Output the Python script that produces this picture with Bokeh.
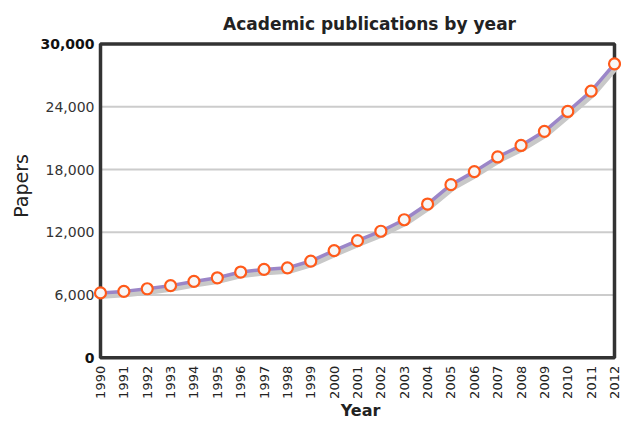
import math
from bokeh.plotting import figure
from bokeh.models import Range1d, Label, ColumnDataSource
from bokeh.transform import dodge
from bokeh.embed import file_html
from bokeh.resources import INLINE

# ---- data ----
years = [1990, 1991, 1992, 1993, 1994, 1995, 1996, 1997, 1998, 1999, 2000, 2001,
         2002, 2003, 2004, 2005, 2006, 2007, 2008, 2009, 2010, 2011, 2012]
papers = [6200, 6350, 6600, 6900, 7300, 7650, 8200, 8450, 8600, 9250, 10250, 11200,
          12100, 13200, 14700, 16550, 17800, 19200, 20300, 21650, 23550, 25500, 28100]
y_ticks = [0, 6000, 12000, 18000, 24000, 30000]
y_tick_labels = ["0", "6,000", "12,000", "18,000", "24,000", "30,000"]
x_tick_labels = [str(y) for y in years]
title_text = "Academic publications by year"
x_label = "Year"
y_label = "Papers"

FONT = "DejaVu Sans"
TXT = "#222222"

W, H = 621, 420
# screen layout of the plotting box (pixels)
BOX_L, BOX_R, BOX_T, BOX_B = 100, 614, 43.5, 357.3
PX_X = (BOX_R - BOX_L) / (years[-1] - years[0])
PX_Y = (BOX_B - BOX_T) / (y_ticks[-1] - y_ticks[0])

src = ColumnDataSource(dict(year=years, papers=papers))

p = figure(
    frame_width=W, frame_height=H,
    x_range=Range1d(years[0] - BOX_L / PX_X, years[-1] + (W - BOX_R) / PX_X),
    y_range=Range1d(y_ticks[0] - (H - BOX_B) / PX_Y, y_ticks[-1] + BOX_T / PX_Y),
    x_axis_location=None, y_axis_location=None,
    output_backend="svg", toolbar_location=None,
    min_border=0, min_border_left=0, min_border_right=0, min_border_top=0,
    min_border_bottom=0,
    background_fill_color="white", border_fill_color="white",
)
p.title.visible = False
p.outline_line_color = None
p.grid.visible = False

# grid lines
inner = y_ticks[1:-1]
p.segment(x0=[years[0]] * len(inner), x1=[years[-1]] * len(inner), y0=inner, y1=inner,
          line_color="#cccccc", line_width=2)

# plot box border
p.quad(left=[years[0]], right=[years[-1]], bottom=[y_ticks[0]], top=[y_ticks[-1]],
       fill_color=None, line_color="#333333", line_width=3.5)

# y tick labels (ends bold)
styles = ["bold" if v in (y_ticks[0], y_ticks[-1]) else "normal" for v in y_ticks]
colors = ["#111111" if s == "bold" else "#333333" for s in styles]
ysrc = ColumnDataSource(dict(x=[years[0]] * len(y_ticks), y=y_ticks, t=y_tick_labels,
                             s=styles, c=colors))
p.text(x="x", y="y", text="t", source=ysrc, x_offset=-6, text_align="right",
       text_baseline="middle", text_font_size="14px", text_font_style="s",
       text_color="c", text_font={"value": FONT})

# x tick labels (vertical)
xsrc = ColumnDataSource(dict(x=years, y=[y_ticks[0]] * len(years), t=x_tick_labels))
p.text(x="x", y="y", text="t", source=xsrc, angle=math.pi / 2, y_offset=8,
       text_align="right", text_baseline="middle", text_font_size="13px",
       text_color=TXT, text_font={"value": FONT})

mid_x = (years[0] + years[-1]) / 2
mid_y = (y_ticks[0] + y_ticks[-1]) / 2

# title
p.add_layout(Label(x=mid_x, y=y_ticks[-1], x_offset=12, y_offset=20,
                   text=title_text, text_align="center", text_baseline="alphabetic",
                   text_font=FONT, text_font_size="17px", text_font_style="bold",
                   text_color=TXT))
# x axis label
p.add_layout(Label(x=mid_x, y=y_ticks[0], x_offset=3, y_offset=-53,
                   text=x_label, text_align="center", text_baseline="alphabetic",
                   text_font=FONT, text_font_size="16px", text_font_style="bold",
                   text_color=TXT))
# y axis label
p.add_layout(Label(x=years[0], y=mid_y, x_offset=-80, y_offset=15,
                   angle=math.pi / 2, text=y_label, text_align="center",
                   text_baseline="middle", text_font=FONT, text_font_size="19px",
                   text_color=TXT))

# shadow, line, markers
p.line(x=dodge("year", 0.08), y=dodge("papers", -280), source=src,
       line_color="#c8c8c8", line_width=6, line_join="round")
p.line(x="year", y="papers", source=src, line_color="#9b86c8", line_width=3.5,
       line_join="round")
p.scatter(x="year", y="papers", source=src, size=11, marker="circle",
          fill_color="#f7f7f7", line_color="#ff5a1a", line_width=2.2)

open("out.html", "w").write(file_html(p, INLINE))
